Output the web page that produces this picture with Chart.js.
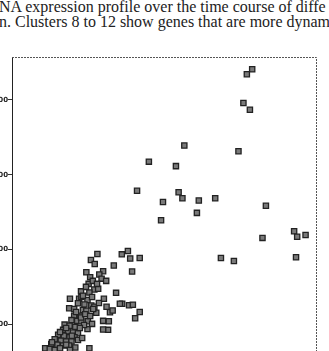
<!DOCTYPE html>
<html>
<head>
<meta charset="utf-8">
<script src="https://cdn.jsdelivr.net/npm/chart.js@4/dist/chart.umd.min.js"></script>
<style>
  html, body { margin: 0; padding: 0; background: #fff; overflow: hidden; width: 329px; height: 351px; }
  .caption {
    position: absolute; left: -1px; width: 345px;
    font-family: "Liberation Serif", "DejaVu Serif", serif;
    font-size: 16px; color: #222; white-space: nowrap; overflow: hidden;
  }
  #chart { position: absolute; left: -12px; top: 0; }
</style>
</head>
<body>
<div class="caption" style="top:-2px">NA expression profile over the time course of diffe</div>
<div class="caption" style="top:13px">n. Clusters 8 to 12 show genes that are more dynam</div>
<canvas id="chart" width="341" height="440"></canvas>
<script>
// expression values (x = first condition, y = second)
const xValues = [
  630, 616, 607, 624, 452, 594, 359, 430, 328, 437, 447, 490, 533, 396, 666, 485, 391,
  740, 748, 770, 657, 288, 304, 310, 335, 548, 582, 745, 315, 289, 283, 307, 317, 335, 323,
  224, 207, 217, 267, 195, 239, 205, 229, 235, 247, 201, 216, 226, 273, 181, 203,
  152, 176, 182, 198, 241, 173, 190, 208, 216, 248, 150, 163, 186, 195, 221, 257,
  163, 178, 156, 171, 182, 199, 239, 254, 138, 151, 166, 198, 252, 134, 147, 160, 173, 239,
  121, 136, 151, 164, 112, 128, 142, 156, 103, 119, 134, 150, 166, 87, 99, 112, 203, 264,
  168, 181, 192, 205, 189, 178, 210, 142, 126, 157, 173, 142, 126, 152, 105, 184,
  213, 228, 186, 210, 194, 212, 223
];
const yValues = [
  882, 869, 792, 774, 678, 663, 635, 623, 557, 553, 537, 531, 537, 527, 517, 498, 478,
  449, 434, 439, 431, 387, 396, 376, 377, 377, 369, 379, 341, 255, 255, 251, 252, 233, 216,
  388, 372, 361, 357, 339, 342, 326, 333, 322, 316, 308, 293, 295, 284, 288, 285,
  268, 268, 273, 265, 268, 256, 253, 250, 247, 247, 243, 241, 238, 236, 231, 232,
  223, 223, 211, 209, 208, 208, 209, 208, 199, 196, 193, 187, 185, 185, 181, 178, 176, 186,
  172, 169, 165, 165, 160, 156, 154, 154, 147, 145, 143, 143, 138, 136, 134, 131, 136, 237,
  233, 218, 227, 222, 198, 190, 201, 190, 179, 169, 158, 145, 136, 131, 152, 163,
  241, 257, 276, 273, 300, 316, 308
];
const yTicks = [0, 200, 400, 600, 800];
const xTicks = [0, 200, 400, 600, 800];

const points = xValues.map((x, i) => ({ x: x, y: yValues[i] }));

const framePlugin = {
  id: "frame",
  afterDatasetsDraw(chart) {
    const { ctx, chartArea: a } = chart;
    ctx.save();
    ctx.strokeStyle = "#555";
    ctx.lineWidth = 1;
    ctx.setLineDash([2, 1]);
    ctx.beginPath();
    ctx.moveTo(a.left, a.top + 0.5);
    ctx.lineTo(a.right - 0.5, a.top + 0.5);
    ctx.lineTo(a.right - 0.5, a.bottom);
    ctx.stroke();
    ctx.restore();
  }
};

new Chart(document.getElementById("chart"), {
  type: "scatter",
  data: {
    datasets: [{
      data: points,
      pointStyle: "rect",
      pointRadius: 3.7,
      pointBorderWidth: 1.3,
      pointBorderColor: "#222",
      pointBackgroundColor: "#7a7a7a"
    }]
  },
  options: {
    responsive: false,
    animation: false,
    layout: { padding: { top: 57, right: 12, left: 0, bottom: 0 } },
    plugins: { legend: { display: false }, tooltip: { enabled: false } },
    scales: {
      x: {
        min: 0, max: 800,
        afterBuildTicks: (s) => { s.ticks = xTicks.map(v => ({ value: v })); },
        afterFit: (s) => { s.height = 41; },
        grid: { drawOnChartArea: false, tickLength: 4, color: "#333" },
        border: { color: "#222", width: 1 },
        ticks: { color: "#222", font: { size: 7, weight: "bold" } }
      },
      y: {
        min: 0, max: 915,
        afterBuildTicks: (s) => { s.ticks = yTicks.map(v => ({ value: v })); },
        afterFit: (s) => { s.width = 24; },
        grid: { drawOnChartArea: false, tickLength: 4, color: "#333" },
        border: { color: "#222", width: 1 },
        ticks: { color: "#222", padding: 0, font: { family: "DejaVu Sans", size: 7, weight: "bold" } }
      }
    }
  },
  plugins: [framePlugin]
});
</script>
</body>
</html>
